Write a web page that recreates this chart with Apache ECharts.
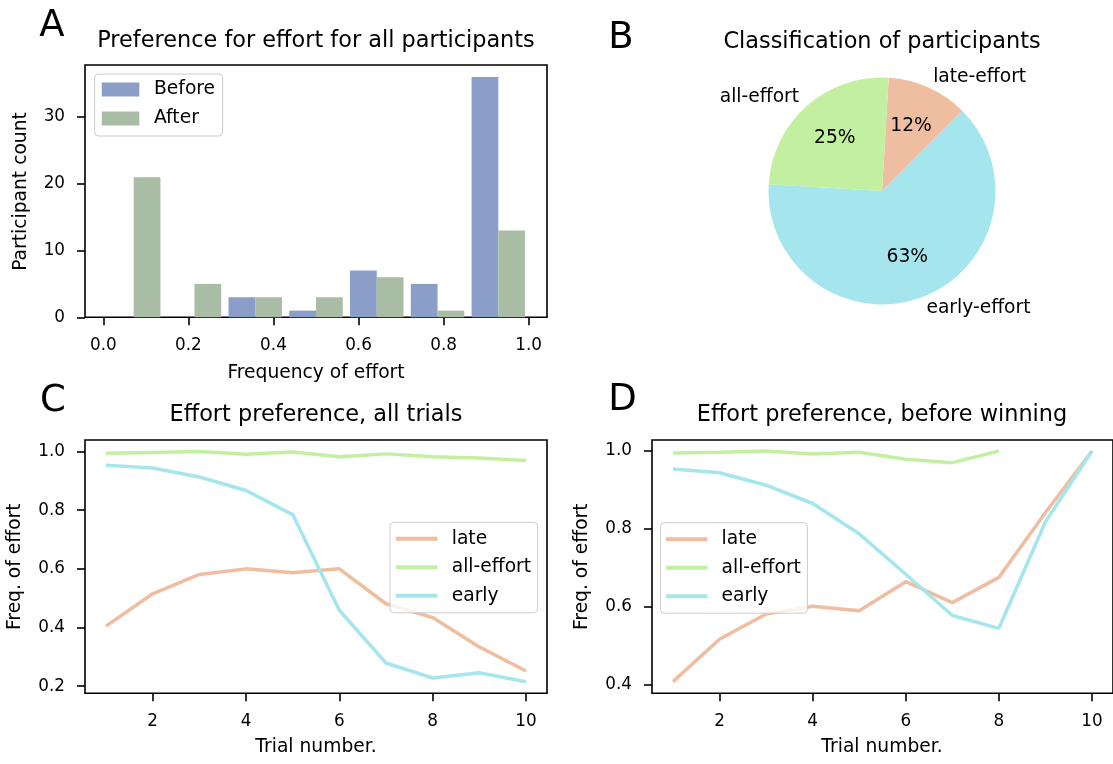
<!DOCTYPE html>
<html>
<head>
<meta charset="utf-8">
<script src="https://cdn.jsdelivr.net/npm/echarts@6/dist/echarts.min.js"></script>
<style>
  html, body { margin: 0; padding: 0; background: #ffffff; }
  #chart { width: 1113px; height: 764px; }
</style>
</head>
<body>
<div id="chart"></div>
<script>
// ---- Panel A: histogram of how often participants chose effort ----
const histBins = [0, 1 / 7, 2 / 7, 3 / 7, 4 / 7, 5 / 7, 6 / 7, 1];
const beforeCounts = [0, 0, 3, 1, 7, 5, 36];
const afterCounts = [21, 5, 3, 3, 6, 1, 13];
const freqTicks = [0, 0.2, 0.4, 0.6, 0.8, 1.0];
const countTicks = [0, 10, 20, 30];

// ---- Panel B: participant groups ----
const groupNames = ['early-effort', 'late-effort', 'all-effort'];
const groupCounts = [33, 6, 13];

// ---- Panels C and D: effort preference per trial ----
const trials = [1, 2, 3, 4, 5, 6, 7, 8, 9, 10];
const allTrialsLate = [0.405, 0.515, 0.581, 0.600, 0.587, 0.600, 0.481, 0.434, 0.334, 0.252];
const allTrialsAll = [0.994, 0.997, 1.000, 0.991, 0.998, 0.982, 0.992, 0.982, 0.978, 0.969];
const allTrialsEarly = [0.953, 0.944, 0.913, 0.867, 0.785, 0.459, 0.279, 0.228, 0.246, 0.215];
const preWinLate = [0.407, 0.516, 0.581, 0.601, 0.589, 0.664, 0.610, 0.675, 0.842, 1.000];
const preWinAll = [0.995, 0.997, 1.000, 0.992, 0.997, 0.979, 0.970, 1.000];
const preWinEarly = [0.954, 0.944, 0.912, 0.865, 0.787, 0.683, 0.577, 0.544, 0.818, 1.000];
const trialTicks = [2, 4, 6, 8, 10];
const freqTicksC = [0.2, 0.4, 0.6, 0.8, 1.0];
const freqTicksD = [0.4, 0.6, 0.8, 1.0];

// ---- styling ----
const FONT = 'DejaVu Sans';
const FS_TICK = 16.8;
const FS = 18.7;
const FS_TITLE = 22.4;
const FS_LETTER = 37;
const COL_BEFORE = '#8b9ec8';
const COL_AFTER = '#a8bda4';
const COL_LATE = '#efbda0';
const COL_ALL = '#c3efa0';
const COL_EARLY = '#a5e6ee';
const BAR_FILL = 0.88;   // share of each bin covered by the bar pair
const SPINE = 1.6;

const chart = echarts.init(document.getElementById('chart'), null, { renderer: 'canvas' });

function valueAxis(gridIndex, min, max, ticks, fmt) {
  return {
    type: 'value', gridIndex, min, max,
    axisLine: { show: false, onZero: false },
    splitLine: { show: false },
    axisTick: { show: true, inside: false, length: 8, customValues: ticks,
                lineStyle: { color: '#000', width: SPINE } },
    axisLabel: { show: true, customValues: ticks, formatter: fmt, margin: 20,
                 fontSize: FS_TICK, fontFamily: FONT, color: '#000' }
  };
}

const grid = (left, top, width, height) => ({
  left, top, width, height, show: true, borderColor: '#000', borderWidth: SPINE,
  backgroundColor: 'transparent', containLabel: false
});

// One bar of a two-series histogram, placed inside its bin like a grouped hist
function histBar(slot, color) {
  return function (params, api) {
    const lo = api.value(0), hi = api.value(1), n = api.value(2);
    const tw = hi - lo;
    const w = BAR_FILL * tw / 2;
    const x0 = lo + tw * (1 - BAR_FILL) / 2 + slot * w;
    const p0 = api.coord([x0, 0]);
    const p1 = api.coord([x0 + w, n]);
    return {
      type: 'rect',
      shape: { x: p0[0], y: p1[1], width: p1[0] - p0[0], height: p0[1] - p1[1] },
      style: { fill: color }
    };
  };
}

const histData = counts => counts.map((c, i) => [histBins[i], histBins[i + 1], c]);
const pairs = (xs, ys) => ys.map((y, i) => [xs[i], y]);

function lineSeries(name, data, color, xi) {
  return {
    type: 'line', name, xAxisIndex: xi, yAxisIndex: xi, data,
    showSymbol: false, symbol: 'none', smooth: false,
    lineStyle: { color, width: 3.5 }, itemStyle: { color },
    emphasis: { disabled: true }, silent: true
  };
}

function legendBox(names, left, top, opts) {
  return Object.assign({
    data: names, orient: 'vertical', left, top,
    icon: 'rect', selectedMode: false,
    backgroundColor: 'rgba(255,255,255,0.8)', borderColor: '#cccccc',
    borderWidth: 1, borderRadius: 4
  }, opts);
}

const legendText = padLeft => ({
  fontSize: FS, fontFamily: FONT, color: '#000', lineHeight: 18, padding: [0, 0, 0, padLeft]
});

function txt(x, y, text, size, align, rotation) {
  return {
    type: 'text', x, y, rotation: rotation || 0, silent: true,
    style: { text, fontSize: size, fontFamily: FONT, fill: '#000',
             align: align || 'center', verticalAlign: 'middle' }
  };
}

const option = {
  animation: false,
  backgroundColor: '#ffffff',
  grid: [
    grid(85, 65, 462, 252.3),
    grid(85, 440, 462, 253.3),
    grid(652, 440, 461, 253.3)
  ],
  xAxis: [
    valueAxis(0, -0.043, 1.043, freqTicks, v => v.toFixed(1)),
    valueAxis(1, 0.55, 10.45, trialTicks, v => String(v)),
    valueAxis(2, 0.55, 10.45, trialTicks, v => String(v))
  ],
  yAxis: [
    valueAxis(0, 0, 37.8, countTicks, v => String(v)),
    valueAxis(1, 0.1758, 1.0393, freqTicksC, v => v.toFixed(1)),
    valueAxis(2, 0.3769, 1.0283, freqTicksD, v => v.toFixed(1))
  ],
  legend: [
    legendBox(['Before', 'After'], 94.6, 74, {
      padding: [6, 7.6, 8, 7.2], itemWidth: 37.5, itemHeight: 14, itemGap: 10,
      textStyle: legendText(9.7)
    }),
    legendBox(['late', 'all-effort', 'early'], 390, 522.3, {
      padding: [7, 6.5, 7.5, 6], itemWidth: 41.5, itemHeight: 4, itemGap: 9.5,
      textStyle: legendText(9.2)
    }),
    legendBox(['late', 'all-effort', 'early'], 660.5, 522.7, {
      padding: [7, 6.5, 7.5, 5.5], itemWidth: 41.5, itemHeight: 4, itemGap: 9.5,
      textStyle: legendText(9.0)
    })
  ],
  series: [
    {
      type: 'custom', name: 'Before', xAxisIndex: 0, yAxisIndex: 0,
      data: histData(beforeCounts), renderItem: histBar(0, COL_BEFORE),
      itemStyle: { color: COL_BEFORE }, encode: { x: [0, 1], y: 2 }, silent: true
    },
    {
      type: 'custom', name: 'After', xAxisIndex: 0, yAxisIndex: 0,
      data: histData(afterCounts), renderItem: histBar(1, COL_AFTER),
      itemStyle: { color: COL_AFTER }, encode: { x: [0, 1], y: 2 }, silent: true
    },
    {
      type: 'pie', name: 'groups', center: [882, 191], radius: 113.5,
      startAngle: 176.6, clockwise: false, avoidLabelOverlap: false,
      silent: true, emphasis: { disabled: true },
      itemStyle: { borderWidth: 0 },
      data: groupNames.map((n, i) => ({
        name: n, value: groupCounts[i],
        itemStyle: { color: [COL_EARLY, COL_LATE, COL_ALL][i] }
      })),
      label: { show: true, position: 'outside', formatter: '{b}', fontSize: FS,
               fontFamily: FONT, color: '#000', distanceToLabelLine: 0 },
      labelLine: { show: false, length: 11.4, length2: 0 }
    },
    {
      // percentage labels at 60% of the pie radius
      type: 'pie', name: 'shares', center: [882, 191], radius: 136.2,
      startAngle: 176.6, clockwise: false, avoidLabelOverlap: false,
      silent: true, emphasis: { disabled: true },
      itemStyle: { color: 'rgba(0,0,0,0)', borderWidth: 0 },
      data: groupNames.map((n, i) => ({ name: n + ' share', value: groupCounts[i] })),
      label: { show: true, position: 'inside', fontSize: FS, fontFamily: FONT, color: '#000',
               formatter: p => Math.round(p.percent) + '%' },
      labelLine: { show: false }
    },
    lineSeries('late', pairs(trials, allTrialsLate), COL_LATE, 1),
    lineSeries('all-effort', pairs(trials, allTrialsAll), COL_ALL, 1),
    lineSeries('early', pairs(trials, allTrialsEarly), COL_EARLY, 1),
    lineSeries('late', pairs(trials, preWinLate), COL_LATE, 2),
    lineSeries('all-effort', pairs(trials, preWinAll), COL_ALL, 2),
    lineSeries('early', pairs(trials, preWinEarly), COL_EARLY, 2)
  ],
  graphic: [
    txt(39.3, 26.2, 'A', FS_LETTER, 'left'),
    txt(608.3, 38.8, 'B', FS_LETTER, 'left'),
    txt(40, 401, 'C', FS_LETTER, 'left'),
    txt(608.3, 400.8, 'D', FS_LETTER, 'left'),
    txt(316, 41.5, 'Preference for effort for all participants', FS_TITLE),
    txt(882, 42.5, 'Classification of participants', FS_TITLE),
    txt(316, 415, 'Effort preference, all trials', FS_TITLE),
    txt(882, 415, 'Effort preference, before winning', FS_TITLE),
    txt(316, 373, 'Frequency of effort', FS),
    txt(316, 747.5, 'Trial number.', FS),
    txt(882, 747.5, 'Trial number.', FS),
    txt(21, 191.5, 'Participant count', FS, 'center', Math.PI / 2),
    txt(15.5, 566.7, 'Freq. of effort', FS, 'center', Math.PI / 2),
    txt(582, 566.7, 'Freq. of effort', FS, 'center', Math.PI / 2)
  ]
};

chart.setOption(option);
</script>
</body>
</html>
